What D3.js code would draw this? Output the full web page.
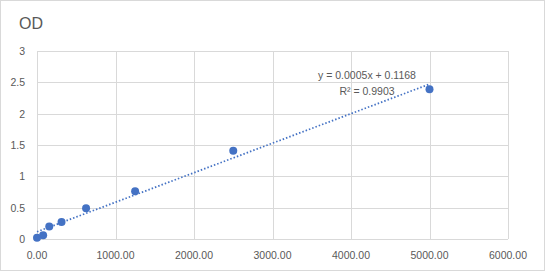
<!DOCTYPE html>
<html>
<head>
<meta charset="utf-8">
<script src="https://cdn.jsdelivr.net/npm/d3@7"></script>
<style>
  body { margin: 0; background: #fff; }
  text { font-family: "Liberation Sans", Arial, sans-serif; fill: #595959; }
</style>
</head>
<body>
<div id="chart"></div>
<script>
// concentration vs OD readings
const conc = [0, 78.125, 156.25, 312.5, 625, 1250, 2500, 5000];
const od = [0.02, 0.06, 0.2, 0.27, 0.49, 0.76, 1.41, 2.39];
const xTicks = [0, 1000, 2000, 3000, 4000, 5000, 6000];
const yTicks = [0, 0.5, 1, 1.5, 2, 2.5, 3];
const eqLabel = "y = 0.0005x + 0.1168";
const r2Label = "R² = 0.9903";

const width = 545;
const height = 271;
const margin = { top: 51, right: 37, bottom: 32, left: 37 };
const blue = "#4472c4";
const grid = "#d9d9d9";

const svg = d3.select("#chart")
  .append("svg")
  .attr("width", width)
  .attr("height", height);

svg.append("rect")
  .attr("x", 0.5).attr("y", 0.5)
  .attr("width", width - 1).attr("height", height - 1)
  .attr("fill", "#fff").attr("stroke", grid);

const x = d3.scaleLinear().domain([0, 6000]).range([margin.left, width - margin.right]);
const y = d3.scaleLinear().domain([0, 3]).range([height - margin.bottom, margin.top]);

// gridlines
svg.append("g")
  .selectAll("line")
  .data(yTicks.slice(1))
  .join("line")
  .attr("x1", x(0)).attr("x2", x(6000))
  .attr("y1", d => Math.round(y(d)) + 0.5).attr("y2", d => Math.round(y(d)) + 0.5)
  .attr("stroke", grid);

svg.append("g")
  .selectAll("line")
  .data(xTicks)
  .join("line")
  .attr("x1", d => Math.round(x(d)) + 0.5).attr("x2", d => Math.round(x(d)) + 0.5)
  .attr("y1", y(0)).attr("y2", y(3))
  .attr("stroke", grid);

// axis line
svg.append("line")
  .attr("x1", x(0)).attr("x2", x(6000))
  .attr("y1", Math.round(y(0)) + 0.5).attr("y2", Math.round(y(0)) + 0.5)
  .attr("stroke", grid);

// tick labels
svg.append("g")
  .selectAll("text")
  .data(yTicks)
  .join("text")
  .attr("x", 25)
  .attr("y", d => y(d) + 4)
  .attr("text-anchor", "end")
  .style("font-size", "10.5px")
  .text(d => d);

svg.append("g")
  .selectAll("text")
  .data(xTicks)
  .join("text")
  .attr("x", d => x(d))
  .attr("y", 259)
  .attr("text-anchor", "middle")
  .style("font-size", "10.5px")
  .text(d => d3.format(".2f")(d));

// title
svg.append("text")
  .attr("x", 19).attr("y", 29)
  .style("font-size", "16px")
  .text("OD");

// linear trendline (least squares on the points)
const mx = d3.mean(conc), my = d3.mean(od);
const slope = d3.sum(conc, (c, i) => (c - mx) * (od[i] - my)) / d3.sum(conc, c => (c - mx) ** 2);
const icpt = my - slope * mx;

svg.append("line")
  .attr("x1", x(0)).attr("y1", y(icpt))
  .attr("x2", x(5000)).attr("y2", y(icpt + slope * 5000))
  .attr("stroke", blue)
  .attr("stroke-width", 1.75)
  .attr("stroke-dasharray", "1.5,2");

svg.append("g")
  .selectAll("circle")
  .data(conc)
  .join("circle")
  .attr("cx", d => x(d))
  .attr("cy", (d, i) => y(od[i]))
  .attr("r", 4)
  .attr("fill", blue);

svg.append("text")
  .attr("x", 367).attr("y", 79)
  .attr("text-anchor", "middle")
  .style("font-size", "10.5px")
  .text(eqLabel);

svg.append("text")
  .attr("x", 367).attr("y", 95)
  .attr("text-anchor", "middle")
  .style("font-size", "10.5px")
  .text(r2Label);
</script>
</body>
</html>
